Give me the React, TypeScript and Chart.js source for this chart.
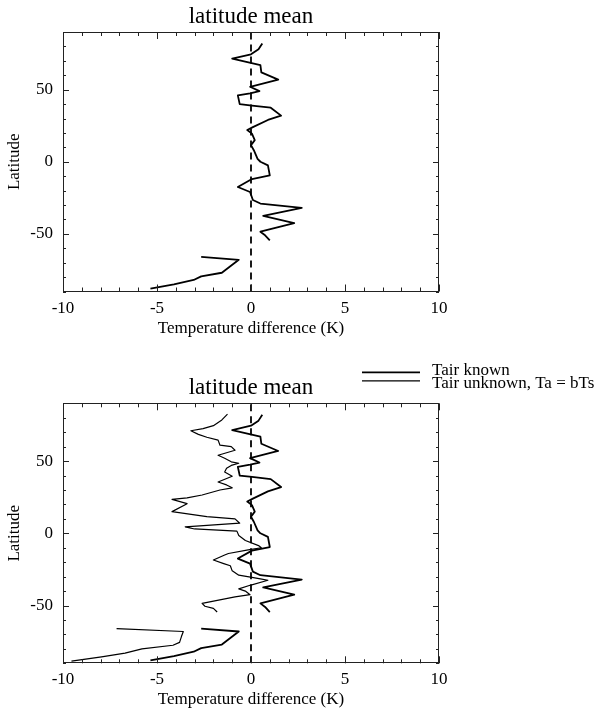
import React, { useEffect, useRef } from 'react';
import { Chart, registerables } from 'chart.js';

Chart.register(...registerables);

// ---------- data ----------
const panelTitle = 'latitude mean';
const xAxisTitle = 'Temperature difference (K)';
const yAxisTitle = 'Latitude';
const legendLabels = ['Tair known', 'Tair unknown, Ta = bTs'];
const xTickValues = [-10, -5, 0, 5, 10];
const yTickValues = [-50, 0, 50];
const zeroLineLat = [-90, 90];
const zeroLineT = [0, 0];

// Tair known (northern / main segment)
const latKnownNorth = [82, 78, 74.5, 71.5, 67, 62, 57, 52, 49, 47.5, 46, 40, 39, 37.5, 32, 29, 24, 22, 19.5, 15, 11.5, 8, 2, 0, -2.5, -9.5, -12, -17.5, -21, -26.5, -29, -32, -37.5, -42.5, -48.5, -51, -54.5];
const tKnownNorth = [0.6, 0.4, 0.0, -1.0, 0.5, 0.55, 1.45, -0.05, 0.45, -0.05, -0.7, -0.6, 0.05, 1.05, 1.6, 0.9, 0.1, -0.2, 0.05, 0.2, 0.0, 0.15, 0.35, 0.5, 0.9, 1.0, 0.05, -0.7, -0.05, 0.1, 0.5, 2.7, 0.65, 2.3, 0.5, 0.75, 1.0];
// Tair known (Antarctic segment)
const latKnownSouth = [-66, -68, -72.5, -77, -79.5, -82, -85, -88];
const tKnownSouth = [-2.65, -0.65, -1.1, -1.55, -2.65, -3.05, -4.1, -5.35];

// Tair unknown, Ta = bTs (main segment)
const latUnknownNorth = [82.5, 78.5, 74.5, 72.5, 71, 68.5, 66.5, 64.5, 61, 60, 57.5, 54, 52, 49.5, 48.5, 47, 45, 42.5, 39.5, 35.5, 33.5, 31.5, 30, 26.5, 24.5, 23.5, 20.5, 15, 11.5, 10, 7, 4.5, 3, 1.5, -1.5, -5, -8.5, -10, -11.5, -14, -15, -18.5, -21, -22.5, -26, -29, -30.5, -31.5, -32.5, -36, -38.5, -40, -42.5, -44, -48.5, -50.5, -52, -54.5];
const tUnknownNorth = [-1.25, -1.55, -2.0, -2.55, -3.2, -2.8, -2.35, -1.75, -1.65, -1.05, -0.85, -1.75, -1.4, -1.05, -0.65, -1.05, -1.3, -1.4, -1.0, -1.75, -1.3, -1.0, -1.65, -2.6, -3.4, -4.2, -3.4, -4.2, -2.35, -0.85, -0.6, -3.5, -3.0, -0.75, -0.65, -0.3, 0.4, 0.55, -0.15, -1.2, -1.4, -2.0, -1.45, -1.1, -1.0, -0.65, 0.05, 0.5, 0.9, -0.05, -0.65, -0.3, -0.05, -0.85, -2.6, -2.45, -2.0, -1.8];
// Tair unknown (Antarctic segment)
const latUnknownSouth = [-66, -68, -71.5, -75.5, -77.5, -80, -83, -85.5, -88.5];
const tUnknownSouth = [-7.15, -3.6, -3.7, -3.8, -4.15, -5.8, -6.7, -7.95, -9.55];

// ---------- helpers ----------
const FONT = "'Liberation Serif', 'Times New Roman', serif";

function pts(ts: number[], lats: number[]) {
  return ts.map((t, i) => ({ x: t, y: lats[i] }));
}

function lineDs(ts: number[], lats: number[], width: number, dash: number[] = []) {
  return {
    data: pts(ts, lats),
    borderColor: '#000',
    borderWidth: width,
    borderDash: dash,
    borderJoinStyle: 'round',
    borderCapStyle: 'butt',
    pointRadius: 0,
    tension: 0,
    fill: false,
  };
}

const framePlugin = {
  id: 'frameTicks',
  afterDatasetsDraw(chart: any) {
    const { ctx, chartArea: a, scales } = chart;
    const xs = scales.x;
    const ys = scales.y;
    ctx.save();
    ctx.strokeStyle = '#222';
    ctx.lineWidth = 1;
    ctx.strokeRect(Math.round(a.left) + 0.5, Math.round(a.top) + 0.5, Math.round(a.width) - 1, Math.round(a.height) - 1);
    ctx.beginPath();
    for (let v = -10; v <= 10; v += 1) {
      const p = Math.round(xs.getPixelForValue(v)) + 0.5;
      const L = v % 5 === 0 ? 7 : 4;
      ctx.moveTo(p, a.bottom);
      ctx.lineTo(p, a.bottom - L);
      ctx.moveTo(p, a.top);
      ctx.lineTo(p, a.top + L);
    }
    for (let v = -90; v <= 90; v += 10) {
      const p = Math.round(ys.getPixelForValue(v)) + 0.5;
      const L = v % 50 === 0 ? 6 : 3;
      ctx.moveTo(a.left, p);
      ctx.lineTo(a.left + L, p);
      ctx.moveTo(a.right, p);
      ctx.lineTo(a.right - L, p);
    }
    ctx.stroke();
    ctx.restore();
  },
};

const legendPlugin = {
  id: 'refLegend',
  afterDraw(chart: any) {
    const { ctx, chartArea: a } = chart;
    ctx.save();
    ctx.strokeStyle = '#000';
    ctx.fillStyle = '#000';
    ctx.font = `17px ${FONT}`;
    ctx.textAlign = 'left';
    ctx.textBaseline = 'middle';
    const rows = [
      { lineY: a.top - 31, textY: a.top - 33, w: 1.8 },
      { lineY: a.top - 22.5, textY: a.top - 19.5, w: 1.2 },
    ];
    rows.forEach((r, i) => {
      ctx.lineWidth = r.w;
      ctx.beginPath();
      ctx.moveTo(362, r.lineY);
      ctx.lineTo(420, r.lineY);
      ctx.stroke();
      ctx.fillText(legendLabels[i], 432, r.textY);
    });
    ctx.restore();
  },
};

function makeConfig(datasets: any[], p: { titleTop: number; titleBottom: number; padBottom: number; xAxisH: number }, extra: any[]) {
  const font = { family: FONT, size: 17, weight: 'normal' as const };
  return {
    type: 'line' as const,
    data: { datasets },
    options: {
      responsive: false,
      animation: false,
      events: [],
      layout: { padding: { left: 0, right: 164, top: 0, bottom: p.padBottom } },
      plugins: {
        legend: { display: false },
        tooltip: { enabled: false },
        title: {
          display: true,
          text: panelTitle,
          fullSize: false,
          color: '#000',
          font: { family: FONT, size: 23, weight: 'normal' as const },
          padding: { top: p.titleTop, bottom: p.titleBottom },
        },
      },
      scales: {
        x: {
          type: 'linear' as const,
          min: -10,
          max: 10,
          afterBuildTicks: (s: any) => {
            s.ticks = xTickValues.map((v) => ({ value: v }));
          },
          afterFit: (s: any) => {
            s.height = p.xAxisH;
          },
          ticks: { color: '#000', font, padding: 6.5, maxRotation: 0, autoSkip: false },
          grid: { display: false, drawTicks: false },
          border: { display: false },
          title: { display: true, text: xAxisTitle, color: '#000', font, padding: { top: 0, bottom: 0 } },
        },
        y: {
          type: 'linear' as const,
          min: -90,
          max: 90,
          afterBuildTicks: (s: any) => {
            s.ticks = yTickValues.map((v) => ({ value: v }));
          },
          afterFit: (s: any) => {
            s.width = 63;
          },
          ticks: { color: '#000', font, padding: 10 },
          grid: { display: false, drawTicks: false },
          border: { display: false },
          title: { display: true, text: yAxisTitle, color: '#000', font, padding: { top: 4, bottom: 0 } },
        },
      },
    },
    plugins: [framePlugin, ...extra],
  };
}

function Panel(props: { top: number; height: number; datasets: any[]; layout: any; legend?: boolean }) {
  const ref = useRef<HTMLCanvasElement>(null);
  useEffect(() => {
    const chart = new Chart(ref.current as HTMLCanvasElement, makeConfig(props.datasets, props.layout, props.legend ? [legendPlugin] : []) as any);
    return () => chart.destroy();
  }, []);
  return (
    <canvas
      ref={ref}
      width={603}
      height={props.height}
      style={{ position: 'absolute', left: 0, top: props.top, width: 603, height: props.height }}
    />
  );
}

export default function App() {
  const topSets = [
    lineDs(zeroLineT, zeroLineLat, 1.8, [7, 5]),
    lineDs(tKnownNorth, latKnownNorth, 1.8),
    lineDs(tKnownSouth, latKnownSouth, 1.8),
  ];
  const bottomSets = [
    lineDs(zeroLineT, zeroLineLat, 1.8, [7, 5]),
    lineDs(tKnownNorth, latKnownNorth, 1.8),
    lineDs(tKnownSouth, latKnownSouth, 1.8),
    lineDs(tUnknownNorth, latUnknownNorth, 1.2),
    lineDs(tUnknownSouth, latUnknownSouth, 1.2),
  ];
  return (
    <div style={{ position: 'absolute', left: 0, top: 0, width: 603, height: 710, background: '#fff' }}>
      <Panel top={0} height={345} datasets={topSets} layout={{ titleTop: 2.9, titleBottom: 1.5, padBottom: 5.8, xAxisH: 47.7 }} />
      <Panel top={345} height={365} datasets={bottomSets} layout={{ titleTop: 28.9, titleBottom: 1.8, padBottom: 0.2, xAxisH: 46.5 }} legend />
    </div>
  );
}
